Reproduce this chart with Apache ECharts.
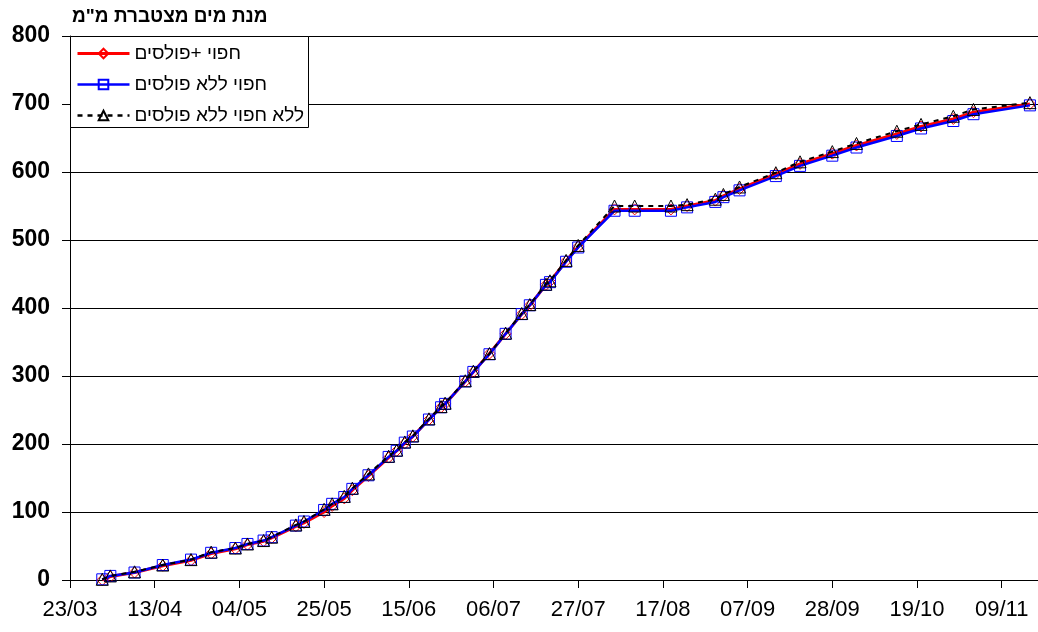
<!DOCTYPE html>
<html><head><meta charset="utf-8">
<script src="https://cdn.jsdelivr.net/npm/echarts@6/dist/echarts.min.js"></script>
<style>html,body{margin:0;padding:0;background:#fff}#c{width:1038px;height:632px}</style>
</head><body><div id="c"></div>
<script>
const title = 'מנת מים מצטברת מ"מ';
const seriesNames = ['חפוי +פולסים', 'חפוי ללא פולסים', 'ללא חפוי ללא פולסים'];
const startDate = '2008-03-23';
const endDate = '2008-11-18';
const dates = ['2008-03-31','2008-04-02','2008-04-08','2008-04-15','2008-04-22','2008-04-27','2008-05-03','2008-05-06','2008-05-10','2008-05-12',
 '2008-05-18','2008-05-20','2008-05-25','2008-05-27','2008-05-30','2008-06-01','2008-06-05','2008-06-10','2008-06-12','2008-06-14',
 '2008-06-16','2008-06-20','2008-06-23','2008-06-24','2008-06-29','2008-07-01','2008-07-05','2008-07-09','2008-07-13','2008-07-15',
 '2008-07-19','2008-07-20','2008-07-24','2008-07-27','2008-08-05','2008-08-10','2008-08-19','2008-08-23','2008-08-30','2008-09-01',
 '2008-09-05','2008-09-14','2008-09-20','2008-09-28','2008-10-04','2008-10-14','2008-10-20','2008-10-28','2008-11-02','2008-11-16'];
const coverPulses = [0,5,11,21,29,39,46,52,57,62,79,84,100,109,120,132,153,180,190,201,211,236,254,259,292,306,333,362,391,404,434,439,469,490,545,545,545,550,558,565,575,597,612,627,639,656,667,678,688,700];
const coverNoPulses = [1,6,11,22,30,40,47,53,58,63,80,86,103,112,122,134,154,181,190,202,211,236,254,259,292,306,332,362,391,404,434,438,468,489,543,543,543,548,556,563,573,594,609,624,636,653,664,675,685,698];
const noCoverNoPulses = [1,6,12,22,30,41,47,53,58,63,81,86,104,112,123,135,156,182,191,203,212,237,255,260,293,307,333,363,392,405,435,440,470,492,550,550,550,552,560,567,578,599,615,630,642,660,670,682,692,702];
const tickDays = 21;
const yMax = 800, yStep = 100;

const DAY = 86400000;
const t0 = Date.parse(startDate + 'T00:00:00Z');
const dayOf = s => Math.round((Date.parse(s + 'T00:00:00Z') - t0) / DAY);
const xMax = dayOf(endDate);
const fmt = v => { const d = new Date(t0 + v * DAY); return String(d.getUTCDate()).padStart(2,'0') + '/' + String(d.getUTCMonth()+1).padStart(2,'0'); };
const pts = arr => arr.map((v, i) => [dayOf(dates[i]), v]);

const chart = echarts.init(document.getElementById('c'), null, {renderer: 'canvas'});
const FONT = 'Arial, "Liberation Sans", sans-serif';
chart.setOption({
  animation: false,
  backgroundColor: '#fff',
  textStyle: {fontFamily: FONT},
  grid: {left: 70, right: 0, top: 36, bottom: 52, containLabel: false},
  graphic: [
    {type: 'rect', z: 3, shape: {x: 70.5, y: 36.5, width: 238, height: 91}, style: {fill: '#fff', stroke: '#000', lineWidth: 1}},
    {type: 'text', z: 5, left: 72, top: 7, style: {text: title, font: 'bold 19px ' + FONT, fill: '#000'}}
  ],
  legend: {
    z: 6, left: 76, top: 43, orient: 'vertical', itemWidth: 52, itemHeight: 12, itemGap: 10, padding: 0,
    textStyle: {fontSize: 19, color: '#000', lineHeight: 21, fontFamily: FONT},
    data: [
      {name: seriesNames[0], lineStyle: {width: 3}},
      {name: seriesNames[1], lineStyle: {width: 2.5}},
      {name: seriesNames[2], lineStyle: {width: 2.5}}
    ]
  },
  xAxis: {
    type: 'value', min: 0, max: xMax, interval: tickDays,
    axisLine: {onZero: false, lineStyle: {color: '#000', width: 1}},
    axisTick: {show: true, length: 8, lineStyle: {color: '#000'}},
    splitLine: {show: false},
    axisLabel: {color: '#000', fontSize: 22, margin: 19, showMaxLabel: false,
      formatter: v => (v % tickDays === 0 ? fmt(v) : '')}
  },
  yAxis: {
    type: 'value', min: 0, max: yMax, interval: yStep,
    axisLine: {show: true, lineStyle: {color: '#000', width: 1}},
    axisTick: {show: true, length: 8, lineStyle: {color: '#000'}},
    splitLine: {show: true, lineStyle: {color: '#000', width: 1}},
    axisLabel: {color: '#000', fontSize: 23, fontWeight: 'bold', margin: 20}
  },
  series: [
    {name: seriesNames[0], type: 'line', data: pts(coverPulses), z: 2,
     symbol: 'diamond', symbolSize: 11, showAllSymbol: true,
     lineStyle: {color: '#ff0000', width: 3},
     itemStyle: {color: 'rgba(0,0,0,0)', borderColor: '#ff0000', borderWidth: 1}},
    {name: seriesNames[1], type: 'line', data: pts(coverNoPulses), z: 3,
     symbol: 'rect', symbolSize: 11, showAllSymbol: true,
     lineStyle: {color: '#0000ff', width: 2.5},
     itemStyle: {color: 'rgba(0,0,0,0)', borderColor: '#0000ff', borderWidth: 1}},
    {name: seriesNames[2], type: 'line', data: pts(noCoverNoPulses), z: 4,
     symbol: 'triangle', symbolSize: 12, showAllSymbol: true,
     lineStyle: {color: '#000', width: 2, type: [5, 5]},
     itemStyle: {color: 'rgba(0,0,0,0)', borderColor: '#000', borderWidth: 1}}
  ]
});
</script></body></html>
